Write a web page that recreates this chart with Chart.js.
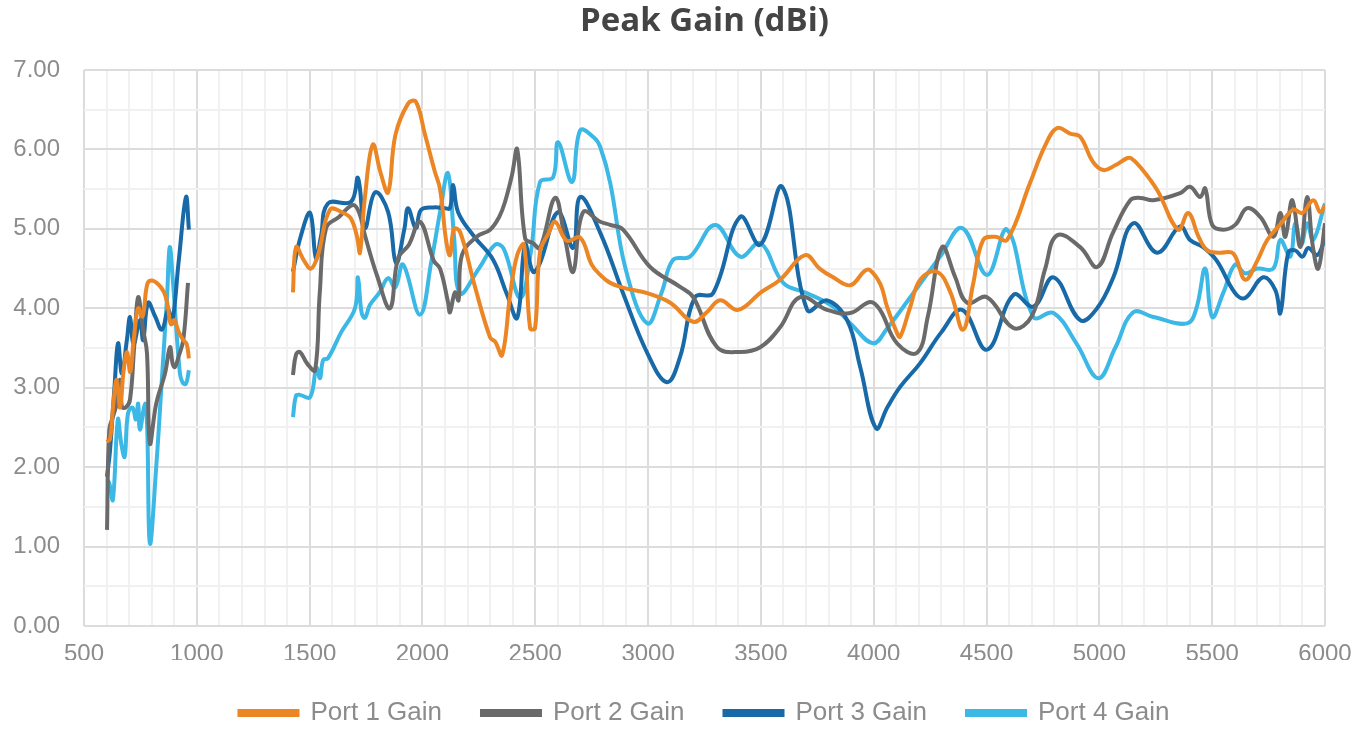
<!DOCTYPE html>
<html>
<head>
<meta charset="utf-8">
<script src="https://cdn.jsdelivr.net/npm/chart.js@4.4.1/dist/chart.umd.min.js"></script>
<style>
  html, body { margin: 0; padding: 0; background: #fff; }
  #wrap { width: 1370px; height: 730px; }
</style>
</head>
<body>
<div id="wrap"><canvas id="gainChart" width="1370" height="730"></canvas></div>
<script>
// frequency (MHz) / peak gain (dBi); null marks the gap between bands
const port1Freq = [600, 615, 630, 645, 660, 675, 690, 705, 720, 740, 760, 780, 800, 830, 855, 870, 885, 900, 920, 940, 955, 965,
  1200,
  1426, 1440, 1475, 1506, 1537, 1590, 1650, 1683, 1710, 1723, 1745, 1780, 1815, 1848, 1880, 1937, 1971, 2010, 2055, 2078, 2105, 2122, 2140, 2167,
  2230, 2300, 2322, 2353, 2390, 2420, 2450, 2477, 2499, 2521, 2560, 2588, 2640, 2699, 2750, 2788, 2832, 2900, 2996, 3098, 3200, 3260, 3319,
  3399, 3500, 3585, 3696, 3760, 3820, 3896, 3960, 3984, 4030, 4059, 4103, 4117, 4160, 4206, 4280, 4340, 4396, 4440, 4485, 4540, 4591, 4693,
  4760, 4813, 4870, 4915, 4970, 5017, 5070, 5123, 5140, 5181, 5256, 5349, 5394, 5440, 5478, 5530, 5593, 5646, 5700, 5744, 5800, 5859, 5900,
  5948, 5979, 6000];
const port1Gain = [2.32, 2.35, 2.8, 3.1, 2.75, 3.2, 3.45, 3.2, 3.6, 4.0, 3.9, 4.3, 4.35, 4.3, 4.2, 4.05, 3.8, 3.85, 3.7, 3.6, 3.55, 3.37,
  null,
  4.2, 4.77, 4.6, 4.5, 4.67, 5.24, 5.2, 5.13, 4.9, 4.7, 5.4, 6.06, 5.7, 5.46, 6.18, 6.58, 6.6, 6.2, 5.72, 5.5, 4.85, 4.67, 5.0, 4.96,
  4.3, 3.63, 3.58, 3.41, 4.2, 4.67, 4.8, 3.75, 3.75, 4.71, 4.95, 5.09, 4.85, 4.89, 4.55, 4.42, 4.32, 4.25, 4.19, 4.07, 3.83, 3.95, 4.1,
  3.98, 4.2, 4.36, 4.67, 4.5, 4.39, 4.29, 4.47, 4.48, 4.3, 4.02, 3.69, 3.64, 4.0, 4.36, 4.46, 4.2, 3.73, 4.3, 4.86, 4.9, 4.86, 5.58,
  6.05, 6.27, 6.2, 6.16, 5.85, 5.74, 5.8, 5.89, 5.89, 5.78, 5.49, 4.99, 5.2, 4.9, 4.73, 4.7, 4.69, 4.36, 4.6, 4.86, 5.05, 5.24, 5.2,
  5.36, 5.21, 5.3];

const port2Freq = [602, 612, 630, 645, 660, 668, 685, 704, 722, 740, 762, 779, 792, 820, 859, 881, 893, 903, 920, 940, 961,
  1200,
  1426, 1440, 1457, 1490, 1524, 1545, 1573, 1630, 1692, 1720, 1745, 1800, 1856, 1892, 1940, 1989, 2050, 2078, 2113, 2122, 2144, 2160, 2175,
  2240, 2300, 2340, 2366, 2397, 2420, 2455, 2490, 2521, 2588, 2630, 2668, 2712, 2788, 2832, 2889, 3009, 3142, 3200, 3306, 3408, 3497, 3585,
  3674, 3793, 3896, 3984, 4028, 4103, 4192, 4240, 4303, 4360, 4414, 4502, 4620, 4700, 4760, 4813, 4915, 4991, 5060, 5137, 5181, 5239, 5358,
  5402, 5447, 5469, 5500, 5549, 5602, 5655, 5713, 5771, 5802, 5824, 5855, 5891, 5921, 5945, 5970, 6000];
const port2Gain = [1.21, 2.47, 2.65, 2.8, 3.1, 2.76, 2.75, 2.85, 3.5, 4.14, 3.73, 3.44, 2.3, 2.8, 3.18, 3.51, 3.3, 3.26, 3.4, 3.6, 4.32,
  null,
  3.16, 3.42, 3.45, 3.3, 3.22, 4.2, 5.01, 5.15, 5.3, 5.2, 4.92, 4.4, 4.0, 4.63, 4.8, 5.09, 4.6, 4.5, 4.08, 3.95, 4.2, 4.1, 4.67,
  4.9, 4.99, 5.15, 5.34, 5.68, 6.0, 4.88, 4.82, 4.76, 5.39, 4.9, 4.46, 5.21, 5.09, 5.05, 4.99, 4.52, 4.27, 4.14, 3.51, 3.45, 3.51, 3.76,
  4.14, 3.98, 3.94, 4.08, 3.98, 3.56, 3.44, 3.9, 4.77, 4.4, 4.07, 4.14, 3.75, 3.9, 4.5, 4.92, 4.77, 4.52, 4.95, 5.36, 5.39, 5.36, 5.45,
  5.53, 5.4, 5.51, 5.05, 4.99, 5.05, 5.26, 5.15, 4.9, 5.2, 4.9, 5.36, 4.77, 5.4, 4.8, 4.5, 5.07];

const port3Freq = [602, 615, 635, 651, 668, 690, 704, 720, 748, 762, 784, 815, 845, 873, 890, 920, 952, 965,
  1200,
  1426, 1460, 1502, 1528, 1550, 1581, 1683, 1714, 1745, 1790, 1848, 1883, 1920, 1936, 1971, 1994, 2050, 2100, 2122, 2136, 2158, 2230,
  2313, 2375, 2420, 2455, 2490, 2521, 2601, 2668, 2699, 2788, 2889, 2996, 3084, 3142, 3208, 3288, 3408, 3497, 3594, 3705, 3793, 3882,
  3940, 4010, 4060, 4117, 4206, 4300, 4392, 4502, 4620, 4708, 4797, 4915, 4990, 5062, 5150, 5256, 5358, 5402, 5460, 5520, 5602, 5646,
  5726, 5780, 5802, 5837, 5868, 5900, 5926, 5966, 6000];
const port3Gain = [1.88, 2.2, 3.0, 3.56, 3.18, 3.6, 3.89, 3.55, 3.85, 3.6, 4.07, 3.9, 3.73, 3.98, 3.81, 4.6, 5.4, 4.99,
  null,
  4.46, 4.9, 5.2, 4.63, 4.9, 5.32, 5.34, 5.64, 5.01, 5.46, 5.21, 4.57, 5.0, 5.26, 5.01, 5.24, 5.27, 5.26, 5.26, 5.55, 5.21, 4.9,
  4.61, 4.17, 3.88, 4.8, 4.46, 4.57, 5.21, 4.76, 5.4, 4.95, 4.19, 3.44, 3.07, 3.39, 4.14, 4.19, 5.15, 4.8, 5.53, 3.98, 4.1, 3.85,
  3.26, 2.49, 2.75, 3.01, 3.31, 3.7, 3.98, 3.48, 4.17, 4.02, 4.39, 3.85, 4.0, 4.39, 5.07, 4.7, 5.03, 4.86, 4.77, 4.6, 4.19, 4.13,
  4.39, 4.23, 3.94, 4.7, 4.73, 4.65, 4.76, 4.67, 4.88];

const port4Freq = [602, 612, 628, 650, 665, 680, 695, 715, 730, 740, 748, 770, 780, 792, 820, 845, 868, 880, 895, 925, 938, 952, 965,
  1200,
  1426, 1440, 1457, 1502, 1530, 1546, 1560, 1581, 1640, 1701, 1714, 1730, 1745, 1767, 1810, 1848, 1879, 1914, 1989, 2040, 2078, 2113,
  2140, 2167, 2250, 2322, 2360, 2433, 2480, 2521, 2579, 2601, 2663, 2699, 2760, 2788, 2832, 2900, 2996, 3060, 3111, 3186, 3297, 3408,
  3497, 3599, 3705, 3820, 3900, 3997, 4060, 4175, 4294, 4392, 4502, 4591, 4708, 4797, 4900, 4995, 5070, 5150, 5239, 5389, 5430, 5469,
  5500, 5550, 5602, 5646, 5700, 5771, 5802, 5846, 5868, 5895, 5921, 5948, 6000];
const port4Gain = [1.84, 1.8, 1.59, 2.6, 2.3, 2.13, 2.68, 2.75, 2.6, 2.8, 2.47, 2.8, 2.5, 1.04, 2.0, 3.1, 4.14, 4.77, 4.3, 3.18, 3.06, 3.05, 3.22,
  null,
  2.63, 2.9, 2.91, 2.88, 3.25, 3.12, 3.35, 3.37, 3.7, 4.0, 4.39, 3.95, 3.88, 4.04, 4.2, 4.38, 4.26, 4.55, 3.92, 4.6, 5.21, 5.7,
  4.9, 4.19, 4.5, 4.8, 4.75, 4.13, 4.7, 5.59, 5.65, 6.09, 5.59, 6.24, 6.15, 6.03, 5.58, 4.5, 3.81, 4.2, 4.61, 4.65, 5.05, 4.65,
  4.82, 4.32, 4.19, 4.02, 3.8, 3.56, 3.75, 4.19, 4.65, 5.01, 4.42, 4.99, 3.89, 3.94, 3.55, 3.12, 3.5, 3.95, 3.89, 3.81, 4.0, 4.5,
  3.89, 4.2, 4.55, 4.44, 4.5, 4.5, 4.86, 4.65, 5.07, 4.8, 5.07, 4.86, 5.32];

const seriesNames = ['Port 1 Gain', 'Port 2 Gain', 'Port 3 Gain', 'Port 4 Gain'];
const seriesColors = ['#EC8524', '#6A6A6A', '#1769A7', '#3BB8E5'];
const xTickLabels = [500, 1000, 1500, 2000, 2500, 3000, 3500, 4000, 4500, 5000, 5500, 6000];
const yTickLabels = [0, 1, 2, 3, 4, 5, 6, 7];

const seriesFreq = [port1Freq, port2Freq, port3Freq, port4Freq];
const seriesGain = [port1Gain, port2Gain, port3Gain, port4Gain];

function toPoints(freqs, gains) {
  return freqs.map((f, i) => ({ x: f, y: gains[i] }));
}

const tickFont = { family: "'Liberation Sans', Arial, sans-serif", size: 24 };
const majorGrid = '#dcdcdc';
const minorGrid = '#f1f1f1';

const ctx = document.getElementById('gainChart').getContext('2d');
new Chart(ctx, {
  type: 'line',
  data: {
    datasets: seriesNames.map((name, i) => ({
      label: name,
      data: toPoints(seriesFreq[i], seriesGain[i]),
      borderColor: seriesColors[i],
      backgroundColor: seriesColors[i],
      borderWidth: 4,
      pointRadius: 0,
      tension: 0.4,
      spanGaps: false,
      fill: false
    }))
  },
  options: {
    responsive: false,
    animation: false,
    layout: { padding: { left: 8, right: 45, top: 0, bottom: 0 } },
    plugins: {
      title: {
        display: true,
        fullSize: false,
        text: 'Peak Gain (dBi)',
        color: '#444444',
        font: { family: "'Open Sans', sans-serif", size: 33, weight: 'bold' },
        padding: { top: 2, bottom: 28.4 }
      },
      legend: {
        position: 'bottom',
        fullSize: false,
        maxHeight: 70,
        labels: {
          boxWidth: 58,
          boxHeight: 4,
          padding: 40,
          color: '#8c8c8c',
          font: { family: "'Liberation Sans', sans-serif", size: 26 }
        }
      },
      tooltip: { enabled: false }
    },
    scales: {
      x: {
        type: 'linear',
        min: 500,
        max: 6000,
        ticks: {
          stepSize: 100,
          autoSkip: false,
          maxRotation: 0,
          padding: 14,
          color: '#8c8c8c',
          font: tickFont,
          callback: (v) => (xTickLabels.includes(v) ? String(v) : '')
        },
        grid: {
          drawTicks: false,
          lineWidth: 2,
          color: (c) => (c.tick && xTickLabels.includes(c.tick.value) ? majorGrid : minorGrid)
        },
        border: { display: false },
        afterFit: (scale) => { scale.height = 34; }
      },
      y: {
        min: 0,
        max: 7,
        ticks: {
          stepSize: 0.5,
          padding: 24,
          color: '#8c8c8c',
          font: tickFont,
          callback: (v) => (yTickLabels.includes(v) ? v.toFixed(2) : '')
        },
        grid: {
          drawTicks: false,
          lineWidth: 2,
          color: (c) => (c.tick && yTickLabels.includes(c.tick.value) ? majorGrid : minorGrid)
        },
        border: { display: false },
        afterFit: (scale) => { scale.width = 76; }
      }
    }
  }
});
</script>
</body>
</html>
